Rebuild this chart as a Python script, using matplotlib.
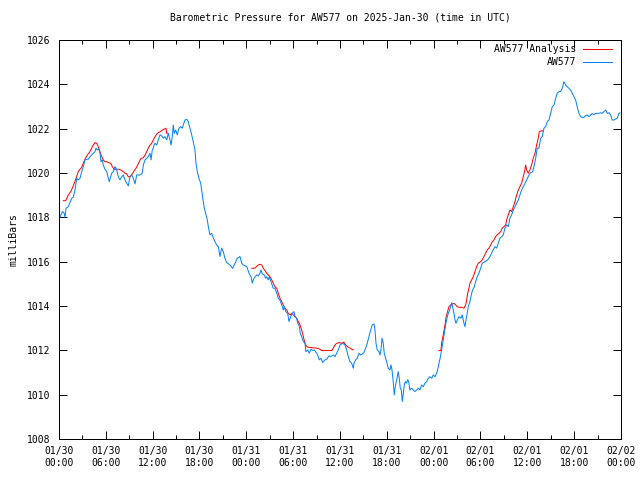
import datetime as dt
import matplotlib
matplotlib.use("Agg")
import matplotlib.pyplot as plt
import matplotlib.dates as mdates
import numpy as np

# hours after 2025-01-30 00:00 UTC, pressure in milliBars
station_hours = [
    0.13, 0.42, 0.64, 0.77, 0.90, 1.19, 1.63, 1.83, 2.05, 2.27, 2.47, 2.69, 2.91, 3.11, 3.33, 3.55,
    3.75, 3.97, 4.19, 4.39, 4.61, 4.74, 4.91, 5.12, 5.25, 5.38, 5.55, 5.67, 5.89, 6.11, 6.32, 6.44,
    6.62, 6.75, 6.96, 7.17, 7.39, 7.60, 7.81, 8.03, 8.24, 8.45, 8.67, 8.88, 9.09, 9.31, 9.52, 9.74,
    9.95, 10.38, 10.67, 10.80, 11.02, 11.23, 11.44, 11.66, 11.79, 11.95, 12.08, 12.17, 12.30, 12.52,
    12.72, 12.94, 13.16, 13.36, 13.58, 13.80, 14.00, 14.22, 14.35, 14.51, 14.64, 14.77, 14.95, 15.15,
    15.37, 15.59, 15.79, 15.92, 16.14, 16.36, 16.56, 16.78, 17.00, 17.20, 17.42, 17.55, 17.72, 17.93,
    18.15, 18.28, 18.48, 18.61, 18.79, 19.00, 19.13, 19.34, 19.56, 19.77, 19.98, 20.20, 20.41, 20.62,
    20.84, 21.05, 21.26, 21.48, 21.91, 22.25, 22.55, 22.84, 23.19, 23.40, 23.61, 24.05, 24.34, 24.60,
    24.76, 24.89, 25.11, 25.33, 25.53, 25.75, 25.88, 26.04, 26.30, 26.48, 26.61, 26.81, 26.94, 27.16,
    27.32, 27.45, 27.67, 27.89, 28.09, 28.31, 28.53, 28.73, 28.86, 29.04, 29.30, 29.46, 29.68, 29.89,
    30.10, 30.23, 30.45, 30.58, 30.78, 30.91, 31.09, 31.30, 31.51, 31.64, 31.86, 32.06, 32.28, 32.50,
    32.70, 33.01, 33.22, 33.34, 33.56, 33.78, 34.08, 34.29, 34.59, 34.84, 35.14, 35.36, 35.57, 35.78,
    36.00, 36.34, 36.64, 36.85, 37.06, 37.28, 37.49, 37.70, 37.79, 38.01, 38.21, 38.43, 38.65, 38.85,
    39.07, 39.29, 39.49, 39.71, 39.93, 40.13, 40.35, 40.48, 40.61, 40.77, 40.99, 41.12, 41.25, 41.38,
    41.54, 41.67, 41.85, 42.02, 42.18, 42.40, 42.53, 42.66, 42.82, 42.95, 43.08, 43.26, 43.46, 43.59,
    43.72, 43.85, 43.98, 44.11, 44.24, 44.36, 44.54, 44.67, 44.80, 44.96, 45.18, 45.39, 45.60, 45.82,
    46.03, 46.24, 46.46, 46.67, 46.88, 47.10, 47.31, 47.52, 47.74, 47.95, 48.17, 48.38, 48.51, 48.68,
    48.80, 49.02, 49.23, 49.45, 49.57, 49.74, 49.96, 50.18, 50.30, 50.43, 50.60, 50.73, 50.86, 51.02,
    51.24, 51.50, 51.66, 51.88, 52.01, 52.14, 52.30, 52.43, 52.65, 52.87, 53.00, 53.20, 53.38, 53.58,
    53.80, 54.02, 54.22, 54.57, 54.92, 55.21, 55.51, 55.85, 56.07, 56.28, 56.49, 56.71, 56.92, 57.13,
    57.35, 57.56, 57.77, 57.99, 58.20, 58.42, 58.63, 58.84, 59.05, 59.27, 59.48, 59.69, 59.91, 60.12,
    60.33, 60.68, 60.85, 61.07, 61.27, 61.49, 61.71, 61.91, 62.13, 62.35, 62.55, 62.77, 62.99, 63.19,
    63.41, 63.63, 63.83, 64.05, 64.27, 64.47, 64.69, 64.91, 65.11, 65.33, 65.55, 65.75, 65.97, 66.19,
    66.39, 66.61, 66.83, 67.03, 67.25, 67.47, 67.67, 67.89, 68.11, 68.32, 68.53, 68.75, 68.96, 69.17,
    69.39, 69.60, 69.81, 70.03, 70.24, 70.46, 70.67, 70.88, 71.10, 71.32, 71.52, 71.74, 71.86,
]
station_mb = [
    1018.00, 1018.26, 1018.20, 1018.00, 1018.41, 1018.48, 1018.86, 1018.91, 1019.23, 1019.76, 1019.69,
    1019.76, 1020.06, 1020.29, 1020.59, 1020.62, 1020.62, 1020.74, 1020.81, 1020.89, 1020.96, 1021.12,
    1021.04, 1021.07, 1020.89, 1020.51, 1020.59, 1020.36, 1020.17, 1020.06, 1019.76, 1019.61, 1019.83,
    1019.99, 1020.06, 1020.29, 1020.14, 1019.83, 1019.69, 1019.83, 1019.91, 1019.69, 1019.54, 1019.42,
    1019.83, 1019.91, 1019.76, 1019.51, 1019.91, 1019.91, 1019.99, 1020.36, 1020.59, 1020.66, 1020.74,
    1020.89, 1020.59, 1021.04, 1021.12, 1021.26, 1021.34, 1021.26, 1021.49, 1021.72, 1021.67, 1021.57,
    1021.64, 1021.49, 1021.79, 1021.49, 1021.26, 1021.64, 1022.17, 1021.79, 1021.94, 1021.72, 1022.02,
    1022.09, 1022.02, 1022.17, 1022.39, 1022.42, 1022.32, 1022.02, 1021.72, 1021.41, 1021.04, 1020.44,
    1020.06, 1019.76, 1019.54, 1019.23, 1018.78, 1018.41, 1018.18, 1017.88, 1017.58, 1017.21, 1017.28,
    1017.06, 1016.90, 1016.75, 1016.68, 1016.23, 1016.61, 1016.45, 1016.15, 1015.96, 1015.85, 1015.70,
    1015.93, 1016.15, 1016.23, 1015.93, 1015.85, 1015.78, 1015.48, 1015.32, 1015.03, 1015.18, 1015.32,
    1015.40, 1015.36, 1015.48, 1015.63, 1015.45, 1015.40, 1015.25, 1015.32, 1015.18, 1015.32, 1015.10,
    1014.95, 1014.80, 1014.80, 1014.58, 1014.35, 1014.27, 1014.05, 1013.82, 1013.97, 1013.75, 1013.67,
    1013.30, 1013.52, 1013.67, 1013.75, 1013.52, 1013.45, 1013.22, 1013.10, 1012.77, 1012.62, 1012.39,
    1012.32, 1011.94, 1012.02, 1011.87, 1012.05, 1011.99, 1012.02, 1011.87, 1011.72, 1011.57, 1011.64,
    1011.45, 1011.57, 1011.60, 1011.75, 1011.72, 1011.79, 1011.72, 1011.87, 1012.02, 1012.24, 1012.32,
    1012.24, 1012.02, 1011.72, 1011.49, 1011.42, 1011.19, 1011.42, 1011.57, 1011.64, 1011.87, 1011.79,
    1011.83, 1011.90, 1012.10, 1012.32, 1012.62, 1012.92, 1013.15, 1013.19, 1012.92, 1012.32, 1012.02,
    1011.94, 1011.79, 1012.02, 1012.55, 1012.32, 1011.87, 1011.64, 1011.42, 1011.19, 1011.12, 1011.34,
    1011.12, 1010.59, 1009.99, 1010.36, 1010.67, 1011.04, 1010.74, 1010.29, 1010.21, 1009.69, 1010.07,
    1010.44, 1010.59, 1010.52, 1010.67, 1010.59, 1010.21, 1010.29, 1010.21, 1010.14, 1010.21, 1010.29,
    1010.21, 1010.44, 1010.36, 1010.52, 1010.59, 1010.74, 1010.81, 1010.74, 1010.89, 1010.81, 1010.97,
    1011.12, 1011.42, 1011.60, 1012.02, 1012.47, 1012.92, 1013.22, 1013.52, 1013.75, 1013.97, 1014.15,
    1013.97, 1013.67, 1013.37, 1013.22, 1013.37, 1013.52, 1013.45, 1013.60, 1013.22, 1013.07, 1013.37,
    1013.67, 1013.97, 1014.20, 1014.58, 1014.72, 1014.87, 1015.10, 1015.32, 1015.48, 1015.70, 1015.93,
    1016.00, 1016.08, 1016.23, 1016.45, 1016.68, 1016.61, 1016.83, 1017.06, 1017.13, 1017.21, 1017.51,
    1017.66, 1017.58, 1017.96, 1018.11, 1018.33, 1018.48, 1018.64, 1018.78, 1019.01, 1019.23, 1019.38,
    1019.54, 1019.69, 1019.83, 1019.99, 1020.06, 1020.29, 1020.66, 1021.12, 1021.12, 1021.57, 1021.64,
    1022.02, 1022.09, 1022.32, 1022.39, 1022.69, 1022.99, 1023.07, 1023.37, 1023.60, 1023.67, 1023.67,
    1023.82, 1024.12, 1023.97, 1023.89, 1023.82, 1023.74, 1023.60, 1023.44, 1023.29, 1022.99, 1022.69,
    1022.54, 1022.51, 1022.51, 1022.59, 1022.62, 1022.54, 1022.62, 1022.69, 1022.62, 1022.69, 1022.69,
    1022.69, 1022.72, 1022.69, 1022.77, 1022.84, 1022.69, 1022.72, 1022.62, 1022.39, 1022.39, 1022.44,
    1022.47, 1022.69, 1022.72,
]

# analysis comes in three pieces
analysis_hours = [
    [0.55, 0.86, 1.19, 1.50, 1.70, 1.96, 2.18, 2.47, 2.69, 2.91, 3.11, 3.33, 3.63, 3.88, 4.19, 4.39,
     4.61, 4.83, 5.03, 5.25, 5.47, 5.67, 5.89, 6.11, 6.32, 6.62, 6.83, 7.05, 7.39, 7.69, 7.90, 8.24,
     8.45, 8.67, 8.88, 9.09, 9.39, 9.65, 9.86, 10.08, 10.29, 10.50, 10.80, 11.02, 11.23, 11.44, 11.66,
     11.87, 12.08, 12.30, 12.52, 12.72, 12.94, 13.16, 13.36, 13.58, 13.71, 13.80, 13.87],
    [24.69, 25.02, 25.33, 25.53, 25.75, 25.97, 26.17, 26.39, 26.61, 26.81, 27.03, 27.25, 27.45, 27.67,
     27.89, 28.09, 28.31, 28.53, 28.73, 28.95, 29.17, 29.37, 29.59, 29.81, 30.01, 30.23, 30.45, 30.65,
     30.87, 31.09, 31.30, 31.51, 31.73, 31.94, 32.37, 33.01, 33.43, 33.65, 34.08, 34.93, 35.14, 35.36,
     35.57, 35.91, 36.21, 36.51, 36.64, 36.85, 37.06, 37.28, 37.49, 37.70],
    [48.68, 48.93, 49.02, 49.23, 49.45, 49.57, 49.74, 49.96, 50.18, 50.38, 50.60, 50.82, 51.02, 51.24,
     51.59, 51.88, 52.10, 52.23, 52.36, 52.52, 52.65, 52.87, 53.07, 53.29, 53.51, 53.71, 54.02, 54.22,
     54.44, 54.66, 54.86, 55.08, 55.30, 55.51, 55.72, 55.94, 56.14, 56.36, 56.58, 56.79, 57.00, 57.22,
     57.35, 57.56, 57.77, 57.99, 58.20, 58.42, 58.63, 58.84, 59.05, 59.27, 59.48, 59.69, 59.78, 59.91,
     60.12, 60.33, 60.54, 60.75, 60.97, 61.19, 61.40, 61.53, 61.75, 62.04],
]
analysis_mb = [
    [1018.75, 1018.75, 1019.01, 1019.16, 1019.31, 1019.54, 1019.76, 1020.06, 1020.17, 1020.26, 1020.44,
     1020.62, 1020.81, 1020.92, 1021.12, 1021.26, 1021.37, 1021.34, 1021.19, 1020.96, 1020.74, 1020.59,
     1020.51, 1020.51, 1020.47, 1020.44, 1020.29, 1020.17, 1020.17, 1020.17, 1020.14, 1020.06, 1019.99,
     1019.96, 1019.83, 1019.83, 1019.96, 1020.11, 1020.21, 1020.36, 1020.51, 1020.66, 1020.69, 1020.81,
     1020.96, 1021.12, 1021.26, 1021.34, 1021.49, 1021.64, 1021.76, 1021.82, 1021.86, 1021.91, 1021.97,
     1021.99, 1022.02, 1021.79, 1021.79],
    [1015.70, 1015.70, 1015.78, 1015.85, 1015.88, 1015.85, 1015.70, 1015.60, 1015.48, 1015.40, 1015.32,
     1015.18, 1015.03, 1014.87, 1014.80, 1014.58, 1014.35, 1014.20, 1014.05, 1013.90, 1013.82, 1013.67,
     1013.60, 1013.67, 1013.60, 1013.52, 1013.45, 1013.30, 1013.15, 1012.92, 1012.62, 1012.32, 1012.17,
     1012.14, 1012.12, 1012.10, 1012.05, 1011.99, 1011.99, 1011.99, 1012.10, 1012.24, 1012.32, 1012.35,
     1012.32, 1012.37, 1012.28, 1012.20, 1012.14, 1012.10, 1012.05, 1012.02],
    [1011.99, 1011.99, 1012.32, 1012.70, 1013.15, 1013.45, 1013.70, 1013.97, 1014.05, 1014.09, 1014.12,
     1014.05, 1013.97, 1013.94, 1013.94, 1013.90, 1014.05, 1014.27, 1014.58, 1014.80, 1015.03, 1015.18,
     1015.32, 1015.55, 1015.78, 1015.93, 1016.00, 1016.08, 1016.23, 1016.38, 1016.53, 1016.61, 1016.75,
     1016.90, 1016.98, 1017.13, 1017.21, 1017.28, 1017.35, 1017.51, 1017.58, 1017.66, 1017.88, 1018.11,
     1018.33, 1018.26, 1018.48, 1018.71, 1019.01, 1019.23, 1019.38, 1019.54, 1019.83, 1020.14, 1020.36,
     1020.14, 1019.99, 1020.14, 1020.36, 1020.66, 1020.87, 1021.26, 1021.57, 1021.86, 1021.90, 1021.90],
]

start = dt.datetime(2025, 1, 30)
end = dt.datetime(2025, 2, 2)


def to_times(hours):
    return [start + dt.timedelta(hours=h) for h in hours]


plt.rcParams['font.family'] = ['DejaVu Sans Mono']
plt.rcParams['font.size'] = 7

fig = plt.figure(figsize=(6.4, 4.8), dpi=100)
ax = fig.add_axes([59 / 640, 41 / 480, 562 / 640, 399 / 480])

red = '#ff0000'
blue = '#0080ff'
lw = 0.72  # one pixel

for h, p in zip(analysis_hours, analysis_mb):
    ax.plot(to_times(h), p, color=red, lw=lw)
ax.plot(to_times(station_hours), station_mb, color=blue, lw=lw)

ax.set_xlim(start, end)
ax.set_ylim(1008, 1026)
ax.set_yticks(np.arange(1008, 1027, 2))
ax.xaxis.set_major_locator(mdates.HourLocator(byhour=[0, 6, 12, 18]))
ax.xaxis.set_minor_locator(mdates.HourLocator(byhour=[3, 9, 15, 21]))
ax.xaxis.set_major_formatter(mdates.DateFormatter('%m/%d\n%H:%M'))

ax.tick_params(which='both', direction='in', top=True, right=True, width=lw, color='black')
ax.tick_params(which='major', length=6, pad=5)
ax.tick_params(which='minor', length=3)
ax.tick_params(axis='y', pad=6)
for s in ax.spines.values():
    s.set_linewidth(lw)

ax.set_title('Barometric Pressure for AW577 on 2025-Jan-30 (time in UTC)', fontsize=7, pad=14)
ax.set_ylabel('milliBars', labelpad=6)

# gnuplot style key: right aligned text, sample line after it
for i, (label, col) in enumerate([('AW577 Analysis', red), ('AW577', blue)]):
    y = 0.977 - i * 0.032
    ax.text(0.92, y, label, transform=ax.transAxes, ha='right', va='center')
    ax.plot([0.932, 0.984], [y, y], transform=ax.transAxes, color=col, lw=lw)

fig.savefig('out.png', dpi=100)
